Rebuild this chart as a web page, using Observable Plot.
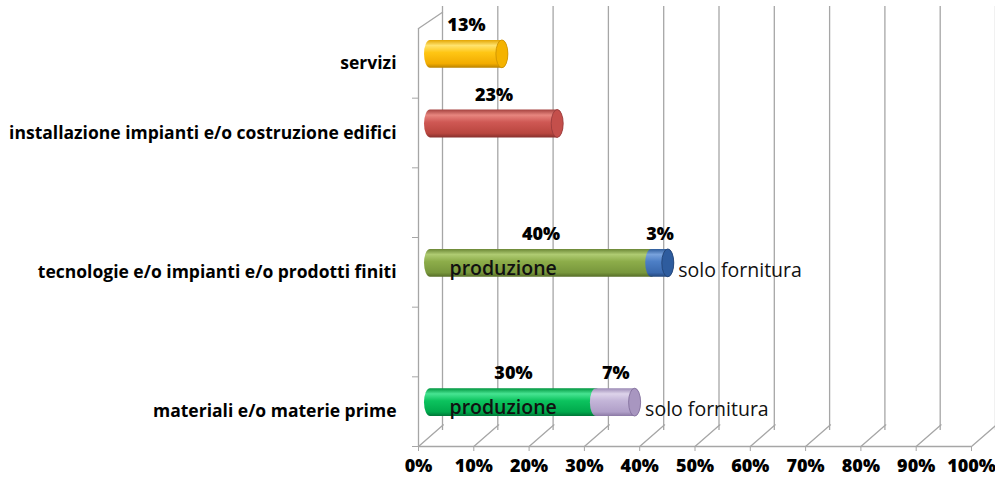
<!DOCTYPE html>
<html><head><meta charset="utf-8">
<script src="https://cdn.jsdelivr.net/npm/d3@7"></script>
<script src="https://cdn.jsdelivr.net/npm/@observablehq/plot@0.6"></script>
<style>body{margin:0;background:#fff}</style>
</head><body><div id="chart"></div>
<script>
// categories, bottom to top (two empty slots as in the original)
const categories = ["materiali e/o materie prime", "", "tecnologie e/o impianti e/o prodotti finiti", " ", "installazione impianti e/o costruzione edifici", "servizi"];
// bar segments
const segCategory = ["materiali e/o materie prime", "materiali e/o materie prime", "tecnologie e/o impianti e/o prodotti finiti", "tecnologie e/o impianti e/o prodotti finiti", "installazione impianti e/o costruzione edifici", "servizi"];
const segType = ["produzione", "solo fornitura", "produzione", "solo fornitura", "", ""];
const segValue = [0.30, 0.07, 0.40, 0.03, 0.23, 0.13];
const segLabel = ["30%", "7%", "40%", "3%", "23%", "13%"];
const segColor = ["green", "lavender", "olive", "blue", "red", "yellow"];
const xTicks = [0, 0.1, 0.2, 0.3, 0.4, 0.5, 0.6, 0.7, 0.8, 0.9, 1.0];

const gradients = {
  yellow:   ["#E3A400", "#FFE36E", "#FFC614", "#F2AC00", "#B98200"],
  red:      ["#A5423F", "#E7867F", "#CF5854", "#B9463F", "#87302D"],
  olive:    ["#6A8534", "#AFCB72", "#8DAD4A", "#78973C", "#566D28"],
  blue:     ["#2D5B9A", "#78A2DC", "#4D7FC6", "#3A69AE", "#23467A"],
  green:    ["#00963F", "#47E492", "#0CC35E", "#00A94C", "#007537"],
  lavender: ["#9B8AB5", "#DDD3EA", "#C3B5D8", "#B09FC8", "#8A78A4"]
};
const capFill = {yellow: "#F5B300", red: "#C44F4B", olive: "#7E9C3F", blue: "#2E5C9E", green: "#00A84B", lavender: "#A896C0"};
const capStroke = {yellow: "#C98F00", red: "#94383A", olive: "#5C7329", blue: "#1F3F6E", green: "#007A36", lavender: "#7D6B98"};

// build stacked segments
const acc = {};
const segs = segValue.map((v, i) => {
  const cat = segCategory[i];
  const start = acc[cat] || 0;
  const end = start + v;
  acc[cat] = end;
  return {cat, idx: categories.indexOf(cat), type: segType[i], start, end, label: segLabel[i], color: segColor[i]};
});
const caps = segs.filter(s => acc[s.cat] === s.end);

const gray = "#A6A6A6";
const lineShape = {draw(context, l) { context.moveTo(0, 0); context.lineTo(0, -l); }};

const chart = Plot.plot({
  width: 995,
  height: 490,
  marginLeft: 418,
  marginRight: 24,
  marginTop: 28,
  marginBottom: 44,
  style: {fontFamily: "'Open Sans', sans-serif", background: "white", color: "black"},
  x: {domain: [0, 1]},
  y: {domain: [0, 6]},
  color: {type: "identity"},
  marks: [
    // back wall gridlines
    Plot.ruleX(xTicks, {x: d => d, y1: 0, y2: 6, dx: 24, dy: -19, insetTop: 3, insetBottom: 3, stroke: gray, strokeWidth: 1.3}),
    // floor diagonals
    Plot.vector(xTicks, {x: d => d, y: 0, length: 33, rotate: 49, anchor: "start", shape: lineShape, stroke: gray, strokeWidth: 1.3}),
    // top-left diagonal
    Plot.vector([6], {x: 0, y: d => d, length: 29, rotate: 56, anchor: "start", shape: lineShape, stroke: gray, strokeWidth: 1.3}),
    // front left edge and bottom axis line
    Plot.ruleX([0], {y1: 0, y2: 6, stroke: gray, strokeWidth: 1.3}),
    Plot.ruleY([0], {x1: 0, x2: 1, stroke: gray, strokeWidth: 1.3}),
    Plot.axisX({ticks: xTicks, tickFormat: d3.format(".0%"), tickSize: 5, tickPadding: 8, stroke: gray, fill: "black", fontSize: 18, fontWeight: 800}),
    Plot.axisY({ticks: [0, 1, 2, 3, 4, 5], tickFormat: () => "", tickSize: 6, stroke: gray}),
    Plot.axisY({ticks: categories.map((c, i) => i + 0.5).filter((d, i) => categories[i].trim() !== ""), tickFormat: d => categories[Math.floor(d)], tickSize: 0, tickPadding: 22, fill: "black", fontSize: 17.5, fontWeight: 700}),
    // cylinders
    Plot.rect(segs, {x1: "start", x2: "end", y1: d => d.idx + 0.3, y2: d => d.idx + 0.7, dx: 12, dy: -9, insetLeft: -6, insetRight: -6, rx: 6, ry: 14, fill: d => `url(#g-${d.color})`}),
    Plot.rect(caps, {x1: "end", x2: "end", y1: d => d.idx + 0.3, y2: d => d.idx + 0.7, dx: 12, dy: -9, insetLeft: -6, insetRight: -6, rx: 6, ry: 14, fill: d => capFill[d.color], stroke: d => capStroke[d.color], strokeWidth: 0.8}),
    // percentage labels
    Plot.text(segs, {x: d => (d.start + d.end) / 2, y: d => d.idx + 0.7, dx: 12, dy: -24, text: "label", fill: "black", fontSize: 18, fontWeight: 800}),
    // segment names
    Plot.text(segs.filter(s => s.type === "produzione"), {x: "start", y: d => d.idx + 0.5, dx: 31, dy: -4, text: "type", textAnchor: "start", fill: "#111", fontSize: 19.5, fontWeight: 600}),
    Plot.text(segs.filter(s => s.type === "solo fornitura"), {x: "end", y: d => d.idx + 0.5, dx: 22, dy: -2, text: "type", textAnchor: "start", fill: "#111", fontSize: 19.5, fontWeight: 500})
  ]
});

const defs = d3.select(chart).insert("defs", ":first-child");
for (const [name, stops] of Object.entries(gradients)) {
  const g = defs.append("linearGradient").attr("id", `g-${name}`).attr("x1", 0).attr("y1", 0).attr("x2", 0).attr("y2", 1);
  const offs = [0, 0.2, 0.45, 0.85, 1];
  stops.forEach((c, i) => g.append("stop").attr("offset", offs[i]).attr("stop-color", c));
}
document.getElementById("chart").appendChild(chart);
</script>
</body></html>
